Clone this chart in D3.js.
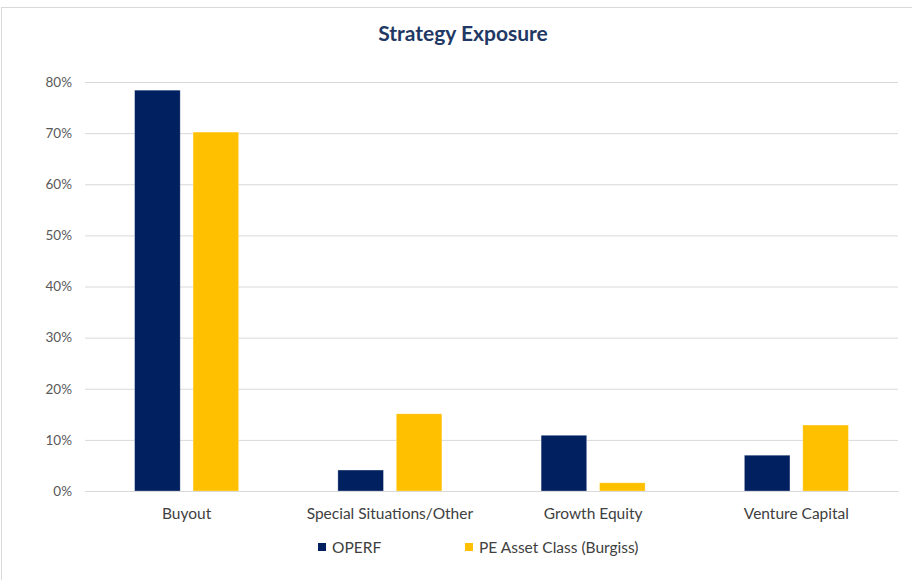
<!DOCTYPE html>
<html><head><meta charset="utf-8">
<script src="https://cdn.jsdelivr.net/npm/d3@7"></script>
<style>body{margin:0;background:#fff}svg{display:block}</style>
</head><body>
<svg id="c" width="912" height="580"></svg>
<script>
const categories = ["Buyout","Special Situations/Other","Growth Equity","Venture Capital"];
const seriesNames = ["OPERF","PE Asset Class (Burgiss)"];
const operf = [78.4, 4.1, 10.9, 7.0];
const burgiss = [70.2, 15.1, 1.6, 12.9];
const yTicks = [0,10,20,30,40,50,60,70,80];
const colors = ["#002060","#FFC000"];

(function(){
const svg = d3.select("#c");
const font = "Lato, 'Open Sans', sans-serif";
svg.append("rect").attr("x",1.5).attr("y",7.5).attr("width",930).attr("height",600)
  .attr("fill","#fff").attr("stroke","#d9d9d9");

const pLeft=85, pRight=898, pTop=82, pBottom=491;
const y = d3.scaleLinear().domain([0,80]).range([pBottom,pTop]);
const x0 = d3.scaleBand().domain(categories).range([pLeft,pRight]).paddingInner(0).paddingOuter(0);
const x1 = d3.scaleBand().domain(seriesNames).range([x0.bandwidth()/2-52, x0.bandwidth()/2+52]).paddingInner(0.22);

svg.append("text").attr("x",463).attr("y",41).attr("text-anchor","middle")
  .attr("font-family",font).attr("font-weight","bold").attr("font-size",21)
  .attr("fill","#1f3864").text("Strategy Exposure");

const yAxis = d3.axisLeft(y).tickValues(yTicks).tickSize(-(pRight-pLeft)).tickFormat(d=>d+"%");
const ga = svg.append("g").attr("transform",`translate(${pLeft},0)`).call(yAxis);
ga.select(".domain").remove();
ga.selectAll(".tick line").attr("stroke","#d9d9d9").attr("stroke-width",1);
ga.selectAll(".tick text").attr("x",-13).attr("font-family",font).attr("font-size",13.5).attr("fill","#595959");

const data = categories.map((c,i)=>({cat:c, vals:[operf[i],burgiss[i]]}));
const g = svg.append("g");
const grp = g.selectAll("g").data(data).join("g").attr("transform",d=>`translate(${x0(d.cat)},0)`);
grp.selectAll("rect").data(d=>d.vals.map((v,j)=>({s:seriesNames[j],v,j}))).join("rect")
  .attr("x",d=>x1(d.s)).attr("width",x1.bandwidth())
  .attr("y",d=>y(d.v)).attr("height",d=>y(0)-y(d.v))
  .attr("fill",d=>colors[d.j]).attr("stroke","rgba(255,255,255,0.4)").attr("stroke-width",0.7);

const xAxis = d3.axisBottom(x0).tickSize(0);
const gx = svg.append("g").attr("transform",`translate(0,${pBottom})`).call(xAxis);
gx.select(".domain").attr("stroke","#d9d9d9");
gx.selectAll(".tick text").attr("dy",0).attr("y",28).attr("font-family",font).attr("font-size",15.5).attr("fill","#404040");

const legendX = [318, 465];
const lg = svg.append("g").selectAll("g").data(seriesNames).join("g")
  .attr("transform",(d,i)=>`translate(${legendX[i]},548)`);
lg.append("rect").attr("x",0).attr("y",-5).attr("width",8).attr("height",8).attr("fill",(d,i)=>colors[i]);
lg.append("text").attr("x",14).attr("y",5).attr("font-family",font).attr("font-size",15.5).attr("fill","#404040").text(d=>d);
})();
</script>
</body></html>
